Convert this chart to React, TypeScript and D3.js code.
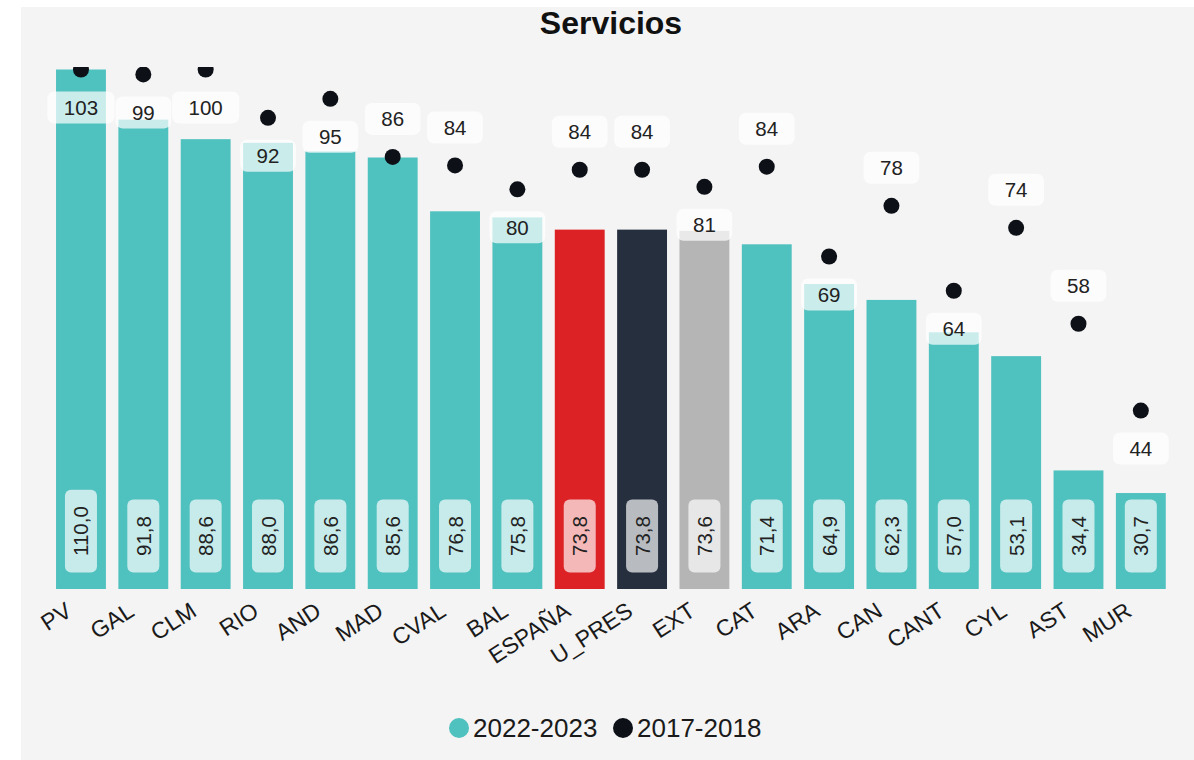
import React from "react";
import * as d3 from "d3";

const categories = ["PV", "GAL", "CLM", "RIO", "AND", "MAD", "CVAL", "BAL", "ESPAÑA", "U_PRES", "EXT", "CAT", "ARA", "CAN", "CANT", "CYL", "AST", "MUR"];
const values2022 = [110.0, 91.8, 88.6, 88.0, 86.6, 85.6, 76.8, 75.8, 73.8, 73.8, 73.6, 71.4, 64.9, 62.3, 57.0, 53.1, 34.4, 30.7];
const values2017 = [103, 99.2, 100, 92.1, 95.2, 85.7, 84.3, 80.4, 83.6, 83.6, 80.8, 84.1, 69.4, 77.7, 63.8, 74.1, 58.4, 44.2];
const dotLabelBelow = [true, true, true, true, true, false, false, true, false, false, true, false, true, false, true, false, false, true];
const seriesNames = ["2022-2023", "2017-2018"];
const title = "Servicios";

const W = 1194;
const H = 760;
const FONT = "'Liberation Sans', Arial, Helvetica, sans-serif";
const TEAL = "#4fc1bf";
const DOT = "#0d1117";
const barColor = (c: string) =>
  c === "ESPAÑA" ? "#dc2224" : c === "U_PRES" ? "#252f3e" : c === "EXT" ? "#b5b5b5" : TEAL;

let ctx: CanvasRenderingContext2D | null = null;
function measure(text: string, size: number, weight = "normal") {
  if (!ctx) ctx = document.createElement("canvas").getContext("2d");
  if (!ctx) return text.length * size * 0.556;
  ctx.font = `${weight} ${size}px 'Liberation Sans', Arial, sans-serif`;
  return ctx.measureText(text).width;
}

const fmt1 = (v: number) => v.toFixed(1).replace(".", ",");

export default function App() {
  const x = d3
    .scaleBand<string>()
    .domain(categories)
    .range([49.8, 1172])
    .paddingInner(0.2)
    .paddingOuter(0.1);
  const y = d3.scaleLinear().domain([15, 100]).range([589, 69.5]);
  const yMax = 100;
  const bw = x.bandwidth();
  const base = y(15);
  const LF = 20.5;

  return (
    <svg width={W} height={H} style={{ position: "absolute", left: 0, top: 0 }} fontFamily={FONT}>
      <defs>
        <clipPath id="plotClip">
          <rect x={0} y={67} width={W} height={H} />
        </clipPath>
      </defs>
      <rect x={0} y={0} width={W} height={H} fill="#ffffff" />
      <rect x={21} y={7} width={W - 21} height={H - 7} fill="#f4f4f4" />
      <text x={611} y={34} textAnchor="middle" fontSize={32} fontWeight="bold" fill="#111">
        {title}
      </text>

      {/* bars */}
      {categories.map((c, i) => {
        const top = y(Math.min(values2022[i], yMax));
        return <rect key={"b" + c} x={x(c)} y={top} width={bw} height={base - top} fill={barColor(c)} />;
      })}

      {/* bar value labels */}
      {categories.map((c, i) => {
        const t = fmt1(values2022[i]);
        const tw = measure(t, LF);
        const bh = tw + 33;
        const cx = (x(c) as number) + bw / 2;
        const bottom = base - 16.5;
        const cy = bottom - bh / 2;
        return (
          <g key={"bl" + c}>
            <rect x={cx - 16} y={bottom - bh} width={32} height={bh} rx={6} fill="#ffffff" fillOpacity={0.68} />
            <text
              transform={`translate(${cx},${cy}) rotate(-90)`}
              textAnchor="middle"
              dominantBaseline="central"
              fontSize={LF}
              fill="#222"
            >
              {t}
            </text>
          </g>
        );
      })}

      {/* dots */}
      <g clipPath="url(#plotClip)">
        {categories.map((c, i) => (
          <circle
            key={"d" + c}
            cx={(x(c) as number) + bw / 2}
            cy={y(Math.min(values2017[i], yMax))}
            r={8}
            fill={DOT}
          />
        ))}
      </g>

      {/* dot labels */}
      {categories.map((c, i) => {
        const t = String(Math.round(values2017[i]));
        const tw = measure(t, LF);
        const bwid = tw + 33;
        const cx = (x(c) as number) + bw / 2;
        const dy = y(Math.min(values2017[i], yMax));
        const cy = dotLabelBelow[i] ? dy + 38 : dy - 38;
        return (
          <g key={"dl" + c}>
            <rect x={cx - bwid / 2} y={cy - 16} width={bwid} height={32} rx={7} fill="#ffffff" fillOpacity={0.7} />
            <text x={cx} y={cy} textAnchor="middle" dominantBaseline="central" fontSize={LF} fill="#222">
              {t}
            </text>
          </g>
        );
      })}

      {/* x axis labels */}
      {categories.map((c) => {
        const cx = (x(c) as number) + bw / 2;
        return (
          <text
            key={"xl" + c}
            transform={`translate(${cx - 12},${608}) rotate(-33)`}
            textAnchor="end"
            dominantBaseline="central"
            fontSize={23}
            fill="#1a1a1a"
          >
            {c}
          </text>
        );
      })}

      {/* legend */}
      {seriesNames.map((s, i) => {
        const lx = i === 0 ? 459 : 623;
        return (
          <g key={"lg" + s}>
            <circle cx={lx} cy={728} r={10} fill={i === 0 ? TEAL : DOT} />
            <text x={lx + 14} y={728} dominantBaseline="central" fontSize={26} fill="#1a1a1a">
              {s}
            </text>
          </g>
        );
      })}
    </svg>
  );
}
